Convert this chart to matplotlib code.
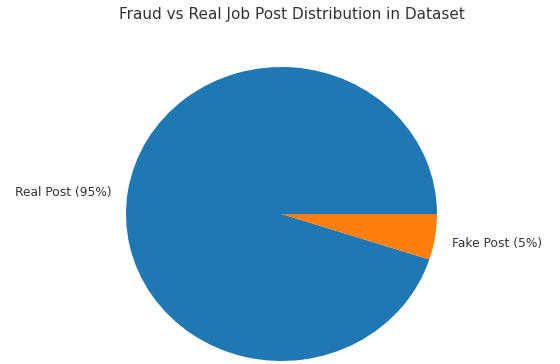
import matplotlib
matplotlib.use("Agg")
import matplotlib.pyplot as plt

labels = ["Real Post (95%)", "Fake Post (5%)"]
shares = [95, 5]
colors = ["#1f77b4", "#ff7f0e"]

W, H = 560, 364
fig = plt.figure(figsize=(W / 100, H / 100), dpi=100)

# pie centre / radii in pixels (reference is slightly stretched sideways)
cx, cy, rx, ry = 281.5, 214, 155.5, 147
ax = fig.add_axes([(cx - rx) / W, (H - cy - ry) / H, 2 * rx / W, 2 * ry / H])
wedges, texts = ax.pie(shares, labels=labels, colors=colors, startangle=0,
                       labeldistance=1.1, textprops={"fontsize": 8.8, "color": "#333333"})
# labels sit a few pixels lower / further out in the reference
for t in texts:
    x, y = t.get_position()
    dx = 2 if x > 0 else -1
    t.set_position((x + dx / rx, y - 4 / ry))
ax.set_xlim(-1, 1)
ax.set_ylim(-1, 1)
ax.set_aspect("auto")
ax.axis("off")

fig.text(292 / W, 1 - 15 / H, "Fraud vs Real Job Post Distribution in Dataset",
         ha="center", va="center", fontsize=11, color="#333333")

fig.savefig("out.png", dpi=100, facecolor="white")
